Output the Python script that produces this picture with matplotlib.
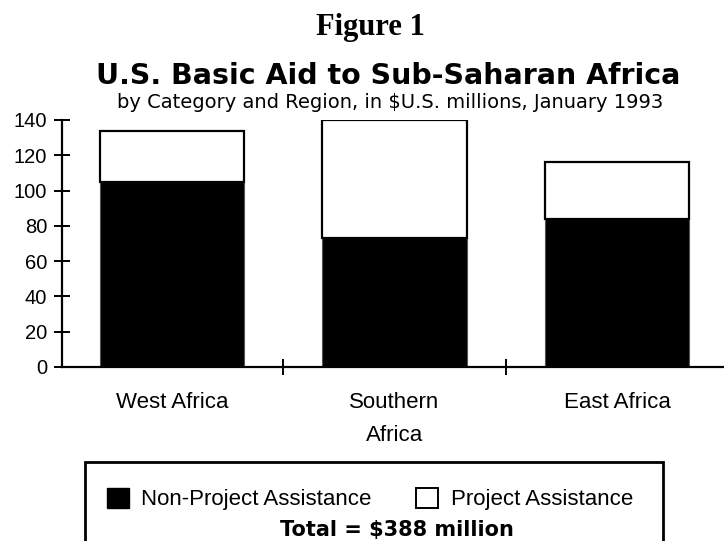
import matplotlib.pyplot as plt
from matplotlib.patches import Rectangle, Patch

regions = ['West Africa', 'Southern\nAfrica', 'East Africa']
non_project = [105, 73, 84]
project = [29, 67, 32]
yticks = [0, 20, 40, 60, 80, 100, 120, 140]

plt.rcParams['font.family'] = ['Liberation Sans', 'DejaVu Sans']

W, H = 724, 541
fig = plt.figure(figsize=(W / 100, H / 100), dpi=100)
ax = fig.add_axes([62 / W, 174 / H, 662 / W, 247 / H])

x = range(len(regions))
ax.bar(x, non_project, width=0.65, color='black', edgecolor='#555555', linewidth=0.8)
ax.bar(x, project, width=0.65, bottom=non_project, color='white',
       edgecolor='black', linewidth=1.6)

ax.set_ylim(0, 140)
ax.set_xlim(-0.494, 2.48)
ax.set_yticks(yticks)
ax.set_yticklabels([str(v) for v in yticks], fontsize=14.5)
ax.set_xticks([0.5, 1.5])
ax.set_xticklabels([])
ax.tick_params(axis='both', direction='inout', length=11.5, width=1.4, pad=5)
for i, name in enumerate(regions):
    ax.text(i, -14, name, ha='center', va='top', fontsize=16,
            linespacing=1.75)

for s in ['top', 'right']:
    ax.spines[s].set_visible(False)
ax.spines['left'].set_linewidth(1.6)
ax.spines['bottom'].set_linewidth(1.6)

fig.text(370 / W, 1 - 35 / H, 'Figure 1', ha='center', va='baseline',
         fontsize=22, fontweight='bold', family='Liberation Serif')
fig.text(388 / W, 1 - 84 / H, 'U.S. Basic Aid to Sub-Saharan Africa',
         ha='center', va='baseline', fontsize=20.5, fontweight='bold',
         family='DejaVu Sans')
fig.text(390 / W, 1 - 108 / H,
         'by Category and Region, in $U.S. millions, January 1993',
         ha='center', va='baseline', fontsize=14, family='DejaVu Sans')

# legend box
fig.patches.append(Rectangle((85 / W, -0.05), 578 / W, 0.05 + 79 / H,
                             transform=fig.transFigure, fill=False,
                             edgecolor='black', linewidth=2))
handles = [Patch(facecolor='black', edgecolor='black'),
           Patch(facecolor='white', edgecolor='black', linewidth=1.4)]
fig.legend(handles, ['Non-Project Assistance', 'Project Assistance'],
           loc='center left', bbox_to_anchor=(107 / W, 1 - 499 / H), ncol=2,
           frameon=False, fontsize=16, handlelength=1.0, handleheight=1.0,
           handletextpad=0.55, columnspacing=2.0, borderpad=0,
           borderaxespad=0)
fig.text(397 / W, 1 - 536 / H, 'Total = $388 million', ha='center',
         va='baseline', fontsize=15, fontweight='bold', family='DejaVu Sans')

fig.savefig('out.png', dpi=100)
